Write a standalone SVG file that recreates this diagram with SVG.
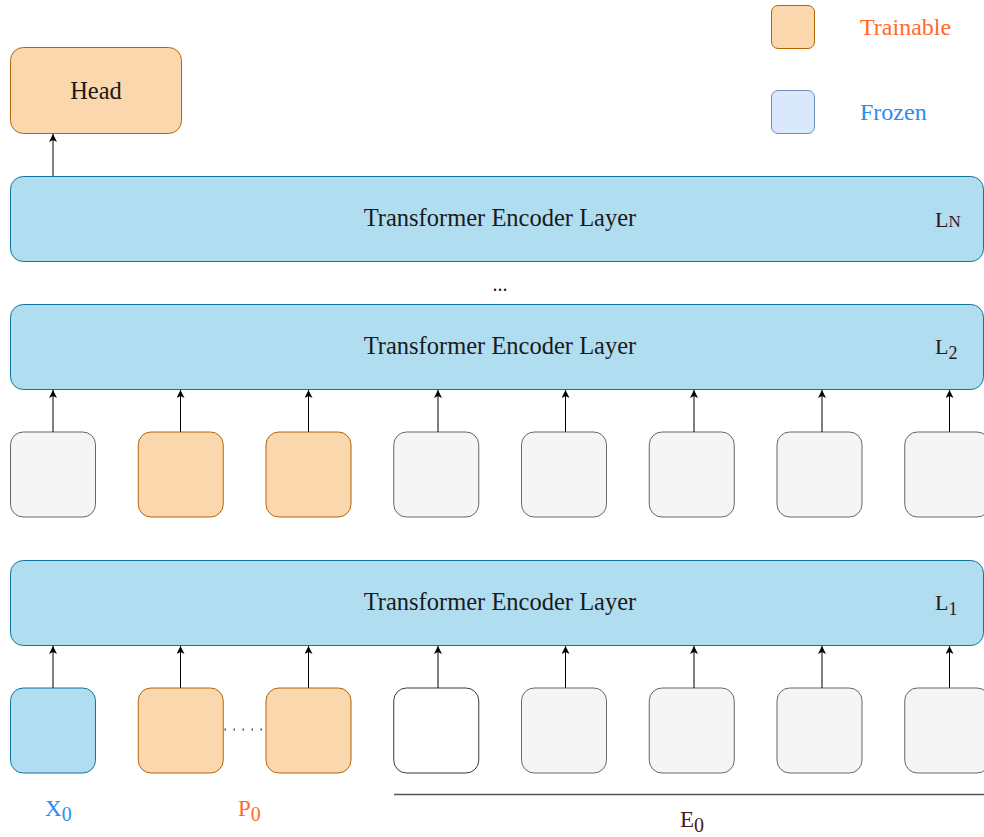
<svg xmlns="http://www.w3.org/2000/svg" width="984" height="837" viewBox="0 0 984 837">
  <style>
    text { font-family: "Liberation Serif", "Times New Roman", serif; }
    .layer { fill: #b1ddf0; stroke: #10739e; stroke-width: 1; }
    .train { fill: #fad7ac; stroke: #b46504; stroke-width: 1; }
    .frozen { fill: #dae8fc; stroke: #6c8ebf; stroke-width: 1; }
    .tok { fill: #f5f5f5; stroke: #666666; stroke-width: 1; }
    .input { fill: #b1ddf0; stroke: #10739e; stroke-width: 1; }
    .blank { fill: #ffffff; stroke: #36393d; stroke-width: 1; }
    .title { font-size: 24.5px; fill: #1a1a1a; text-anchor: middle; }
    .lab { font-size: 22px; fill: #33141a; }
    .conn line { stroke: #000000; stroke-width: 1; marker-end: url(#arrow); }
  </style>
  <defs>
    <marker id="arrow" markerUnits="userSpaceOnUse" markerWidth="10" markerHeight="10" refX="8" refY="4" orient="auto">
      <path d="M0,0 L8,4 L0,8 L2,4 Z" fill="#000000"/>
    </marker>
  </defs>

  <!-- legend -->
  <g id="legend-trainable">
    <rect class="train" x="771.5" y="5.5" width="43" height="43" rx="6.5"/>
    <text x="860" y="35" font-size="24" fill="#ff6a2b">Trainable</text>
  </g>
  <g id="legend-frozen">
    <rect class="frozen" x="771.5" y="90.5" width="43" height="43" rx="6.5"/>
    <text x="860" y="120" font-size="24" fill="#2a8cf0">Frozen</text>
  </g>

  <!-- head -->
  <g id="head">
    <rect class="train" x="10.5" y="47.5" width="171" height="86" rx="12.9"/>
    <text class="title" x="96" y="99">Head</text>
  </g>

  <!-- encoder layers -->
  <g id="layer-n">
    <rect class="layer" x="10.5" y="176.5" width="973" height="85" rx="12.75"/>
    <text class="title" x="500" y="226">Transformer Encoder Layer</text>
    <text class="lab" x="935" y="227">L<tspan font-size="17">N</tspan></text>
  </g>
  <text x="500" y="291" font-size="20" text-anchor="middle" fill="#1a1a1a">...</text>
  <g id="layer-2">
    <rect class="layer" x="10.5" y="304.5" width="973" height="85" rx="12.75"/>
    <text class="title" x="500" y="354">Transformer Encoder Layer</text>
    <text class="lab" x="935" y="354">L<tspan font-size="18" dy="5">2</tspan></text>
  </g>
  <g id="layer-1">
    <rect class="layer" x="10.5" y="560.5" width="973" height="85" rx="12.75"/>
    <text class="title" x="500" y="610">Transformer Encoder Layer</text>
    <text class="lab" x="935" y="610">L<tspan font-size="18" dy="5">1</tspan></text>
  </g>

  <!-- tokens between layer 1 and layer 2 -->
  <g id="mid-tok-1"><rect class="tok" x="10.5" y="432" width="85" height="85" rx="12.75"/></g>
  <g id="mid-tok-2"><rect class="train" x="138.25" y="432" width="85" height="85" rx="12.75"/></g>
  <g id="mid-tok-3"><rect class="train" x="266" y="432" width="85" height="85" rx="12.75"/></g>
  <g id="mid-tok-4"><rect class="tok" x="393.75" y="432" width="85" height="85" rx="12.75"/></g>
  <g id="mid-tok-5"><rect class="tok" x="521.5" y="432" width="85" height="85" rx="12.75"/></g>
  <g id="mid-tok-6"><rect class="tok" x="649.25" y="432" width="85" height="85" rx="12.75"/></g>
  <g id="mid-tok-7"><rect class="tok" x="777" y="432" width="85" height="85" rx="12.75"/></g>
  <g id="mid-tok-8"><rect class="tok" x="904.75" y="432" width="85" height="85" rx="12.75"/></g>

  <!-- input tokens -->
  <g id="x0"><rect class="input" x="10.5" y="688" width="85" height="85" rx="12.75"/></g>
  <g id="p-first"><rect class="train" x="138.25" y="688" width="85" height="85" rx="12.75"/></g>
  <g id="p-last"><rect class="train" x="266" y="688" width="85" height="85" rx="12.75"/></g>
  <g id="e-cls"><rect class="blank" x="393.75" y="688" width="85" height="85" rx="12.75"/></g>
  <g id="e-2"><rect class="tok" x="521.5" y="688" width="85" height="85" rx="12.75"/></g>
  <g id="e-3"><rect class="tok" x="649.25" y="688" width="85" height="85" rx="12.75"/></g>
  <g id="e-4"><rect class="tok" x="777" y="688" width="85" height="85" rx="12.75"/></g>
  <g id="e-5"><rect class="tok" x="904.75" y="688" width="85" height="85" rx="12.75"/></g>

  <!-- prompt ellipsis and embedding bracket -->
  <line x1="224.5" y1="729.5" x2="262" y2="729.5" stroke="#555555" stroke-width="2" stroke-dasharray="1.5,7.5"/>
  <line x1="394" y1="794.5" x2="984" y2="794.5" stroke="#555555" stroke-width="1.5"/>

  <!-- labels -->
  <text x="45" y="816" font-size="23" fill="#2a8cf0">X<tspan font-size="20" dy="5">0</tspan></text>
  <text x="238" y="816" font-size="23" fill="#ff6a2b">P<tspan font-size="20" dy="5">0</tspan></text>
  <text x="680" y="827" font-size="23" fill="#4a1a1a">E<tspan font-size="20" dy="5">0</tspan></text>

  <!-- connectors -->
  <g class="conn" id="connectors">
    <line x1="53" y1="176" x2="53" y2="134"/>

    <line x1="53" y1="432" x2="53" y2="390"/>
    <line x1="180.5" y1="432" x2="180.5" y2="390"/>
    <line x1="308.5" y1="432" x2="308.5" y2="390"/>
    <line x1="438" y1="432" x2="438" y2="390"/>
    <line x1="565.5" y1="432" x2="565.5" y2="390"/>
    <line x1="694" y1="432" x2="694" y2="390"/>
    <line x1="822" y1="432" x2="822" y2="390"/>
    <line x1="949.5" y1="432" x2="949.5" y2="390"/>

    <line x1="53" y1="688" x2="53" y2="646"/>
    <line x1="180.5" y1="688" x2="180.5" y2="646"/>
    <line x1="308.5" y1="688" x2="308.5" y2="646"/>
    <line x1="438" y1="688" x2="438" y2="646"/>
    <line x1="565.5" y1="688" x2="565.5" y2="646"/>
    <line x1="694" y1="688" x2="694" y2="646"/>
    <line x1="822" y1="688" x2="822" y2="646"/>
    <line x1="949.5" y1="688" x2="949.5" y2="646"/>
  </g>
</svg>
